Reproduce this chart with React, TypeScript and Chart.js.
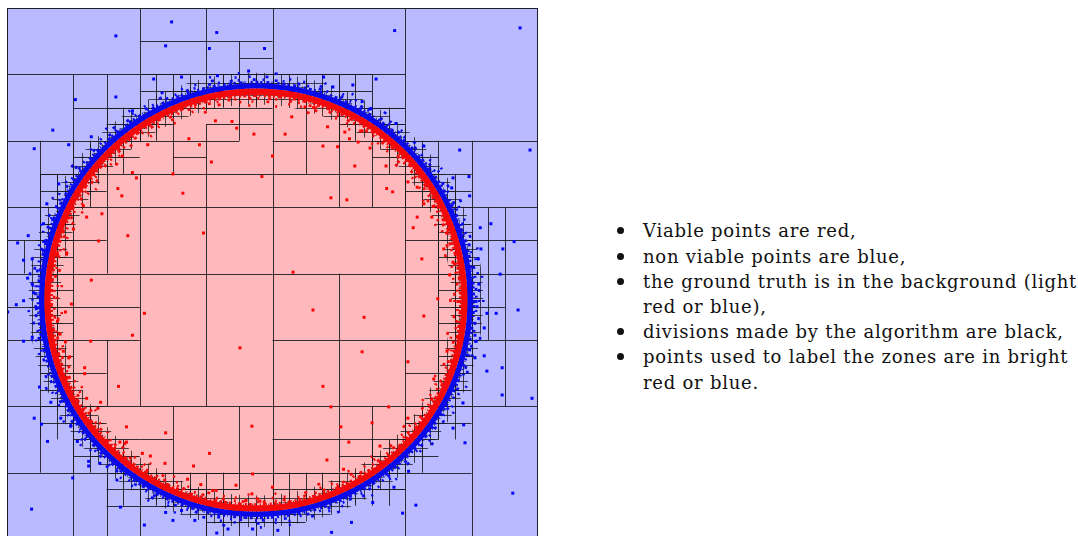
import React, { useEffect, useRef } from "react";
import { Chart, registerables } from "chart.js";

Chart.register(...registerables);

// ---- data (domain 0..8 on both axes, y grows downward) ----
const domainMin = 0;
const domainMax = 8;
const circleCenterX = 3.75;
const circleCenterY = 4.4;
const circleRadius = 3.185;

// horizontal divisions: [y, xStart, xEnd]
const hDivisions: number[][] = [
  [0.5, 2, 4], [0.75, 3.5, 4], [1, 0, 6], [1.5, 1, 2], [1.5, 2.5, 4], [1.5, 5, 6],
  [1.75, 3, 4], [1.75, 5.5, 6], [2, 0, 1], [2, 2, 3.5], [2, 4, 5.5], [2, 6, 8],
  [2.25, 2.5, 3], [2.5, 0.5, 1], [2.5, 1.5, 6], [3, 0, 8], [3.5, 0, 1.5],
  [3.5, 6, 6.5], [3.5, 7, 8], [4, 0, 8], [4.5, 0, 0.5], [4.5, 1, 2], [4.5, 7, 7.5], [5, 0, 2], [5, 4, 8],
  [5.5, 1, 1.5], [5.5, 6, 6.5], [6, 0, 8], [6.5, 2, 2.5], [6.5, 4, 5.5], [6.75, 5, 6],
  [7, 0, 7], [7.25, 2, 3.5], [7.25, 5, 6], [7.5, 1.5, 2.5],
];

// vertical divisions: [x, yStart, yEnd]
const vDivisions: number[][] = [
  [0.25, 3.5, 4], [0.5, 2, 4], [0.5, 6, 7], [0.75, 2.5, 3], [1, 1, 8], [1.5, 1, 2],
  [1.5, 2.5, 4], [1.5, 5, 6], [1.5, 7, 8], [2, 0, 1], [2, 1.5, 2], [2, 2.5, 6], [2, 7.25, 8],
  [2.5, 1.25, 2.5], [2.5, 6, 7.5], [3, 0, 1], [3, 1.75, 6], [3, 7.25, 8], [3.5, 0.5, 1],
  [3.5, 1.5, 2], [3.5, 6, 7.25], [4, 0, 1], [4, 1.25, 7.5], [4.5, 1.5, 2.5], [5, 1, 3],
  [5, 4, 7], [5.5, 1, 2], [5.5, 2.5, 3], [5.5, 6, 7], [6, 0, 8], [6.5, 2, 6.5], [7, 2, 8],
  [7.25, 3, 5], [7.5, 3, 6],
];

// half-unit blocks that the algorithm divided once more (crossed by the boundary): [x0, y0]
const refinedBlocks: number[][] = [
  [0.5, 2.5], [0.5, 3], [0.5, 3.5], [0.5, 4], [0.5, 4.5], [0.5, 5], [0.5, 5.5], [0.5, 6],
  [1, 2], [1, 2.5], [1, 6], [1, 6.5], [1.5, 1.5], [1.5, 2], [1.5, 6.5], [1.5, 7],
  [2, 1], [2, 1.5], [2, 7], [2.5, 1], [2.5, 7], [3, 1], [3, 7], [3, 7.5], [3.5, 1], [3.5, 7.5],
  [4, 1], [4, 7], [4, 7.5], [4.5, 1], [4.5, 7], [5, 1], [5, 1.5], [5, 7],
  [5.5, 1.5], [5.5, 2], [5.5, 6.5], [5.5, 7], [6, 2], [6, 2.5], [6, 6], [6, 6.5],
  [6.5, 2.5], [6.5, 3], [6.5, 3.5], [6.5, 4], [6.5, 4.5], [6.5, 5], [6.5, 5.5], [6.5, 6],
];

// finest divisions near the boundary: cell size and half width of the band they cover
const fineSteps = [0.125, 0.0625];
const fineBandHalfWidths = [0.24, 0.11];

// viable (red) labelling points: [x, y]
const viablePoints: number[][] = [
  [1.82, 3.43], [1.43, 3.1], [1.27, 4.1], [2.96, 3.39], [2.65, 2.79], [2.5, 2.5], [2.12, 2.06],
  [2.74, 1.97], [2.9, 2.06], [3.08, 2.32], [3.84, 2.54], [3.72, 1.9], [3.46, 1.81], [3.39, 1.71],
  [3.14, 1.7], [1.95, 2.56], [1.89, 2.48], [1.73, 2.83], [1.67, 2.72], [1.15, 2.98], [1.38, 3.51],
  [1.0, 3.33], [0.9, 3.69], [0.76, 3.7], [0.91, 3.16], [1.2, 3.15], [1.74, 2.23],
  [4.83, 1.79], [4.76, 2.08], [4.98, 2.09], [5.24, 2.38], [4.88, 2.86], [5.12, 2.89], [4.31, 3.98],
  [4.0, 2.23], [4.19, 1.9], [4.29, 1.64], [4.62, 1.5], [4.49, 1.49], [5.09, 1.87], [5.16, 1.97],
  [5.29, 2.02], [5.35, 1.85], [5.47, 2.11], [5.72, 2.72], [5.81, 2.77], [5.71, 2.38], [6.04, 2.62],
  [6.18, 2.7], [6.18, 3.15], [6.4, 3.15], [6.12, 3.31], [6.25, 3.78], [6.42, 2.99], [6.28, 2.95],
  [6.57, 3.19], [6.58, 3.63], [6.72, 3.83], [6.67, 4.02], [6.49, 4.38], [6.63, 3.39],
  [2.07, 4.6], [1.89, 4.93], [3.51, 5.12], [1.68, 5.7], [2.39, 6.4], [3.05, 6.71], [3.69, 6.3],
  [2.81, 6.9], [1.8, 6.31], [1.26, 5.02], [1.41, 5.94], [1.37, 6.03], [1.2, 5.88], [1.17, 5.42],
  [1.17, 5.51], [0.88, 5.03], [0.97, 4.46], [0.88, 4.58], [0.76, 4.72], [0.79, 4.91], [0.85, 5.17],
  [0.93, 5.27], [2.04, 6.71], [2.16, 6.75], [2.38, 6.86], [1.8, 6.54], [1.7, 6.54], [3.7, 7.02],
  [3.45, 7.19], [3.69, 7.32], [4.0, 7.22], [3.81, 7.43], [3.6, 7.42], [3.1, 7.27], [2.92, 7.18],
  [2.72, 7.1], [4.61, 4.55], [5.38, 4.66], [6.28, 4.64], [5.35, 5.18], [4.76, 5.7], [4.88, 6.01],
  [5.03, 6.31], [5.15, 6.54], [4.82, 6.81], [5.07, 6.95], [6.04, 5.33], [6.43, 5.59], [6.63, 5.17],
  [6.4, 5.89], [6.04, 6.18], [5.75, 6.01], [5.62, 6.6], [5.5, 6.25],
];

// non viable (blue) labelling points: [x, y]
const nonViablePoints: number[][] = [
  [2.48, 0.21], [1.64, 0.42], [3.16, 0.37], [2.39, 0.57], [3.05, 0.61], [3.88, 0.61], [2.21, 1.07],
  [1.64, 1.34], [1.03, 1.38], [0.69, 1.84], [0.41, 2.12], [0.93, 2.06], [1.27, 1.94], [1.89, 1.55],
  [3.17, 1.02], [2.63, 1.04], [3.64, 0.95], [5.84, 0.34], [7.73, 0.3], [5.56, 1.07], [5.21, 1.16],
  [5.35, 1.41], [6.82, 2.14], [7.88, 2.14], [6.96, 2.54], [6.28, 2.08], [5.86, 1.74], [5.47, 1.52],
  [4.91, 1.19], [4.77, 1.04], [6.72, 2.56], [6.7, 2.71], [6.97, 2.83], [7.29, 3.25], [7.13, 3.31],
  [7.64, 3.52], [7.47, 3.63], [7.14, 3.63], [7.1, 3.78], [7.43, 4.01], [7.11, 4.16], [7.7, 4.55],
  [7.37, 4.6], [7.23, 4.6], [7.08, 4.5], [7.19, 4.82], [7.05, 4.93], [7.19, 5.24], [7.07, 5.02],
  [6.97, 5.15], [7.62, 7.31], [7.91, 5.88], [7.46, 5.83], [6.88, 6.28], [6.9, 6.55], [6.16, 7.49],
  [5.96, 7.61], [4.89, 7.9], [5.19, 7.75], [5.51, 7.45], [5.83, 7.22], [6.87, 5.95], [6.72, 6.33],
  [7.23, 5.47], [7.46, 5.42], [7.05, 5.27], [6.05, 6.98], [4.08, 7.87], [3.7, 7.85], [0.37, 7.55],
  [0.99, 7.08], [1.71, 7.52], [2.07, 7.79], [0.41, 6.18], [0.52, 6.27], [0.66, 5.94], [0.61, 6.53],
  [0.49, 5.71], [2.5, 7.72], [2.63, 7.57], [2.39, 7.6], [3.33, 7.85], [3.16, 7.91], [1.23, 6.9],
  [1.23, 6.83], [1.4, 6.86], [0.96, 6.3], [1.06, 6.53], [0.81, 6.18], [2.83, 7.72], [0.32, 3.43],
  [0.16, 3.54], [0.25, 3.8], [0.38, 3.78], [0.31, 4.07], [0.01, 4.58], [0.38, 4.16], [0.4, 4.29],
  [0.25, 4.41], [0.38, 4.96], [0.25, 5.02], [0.55, 3.66], [0.58, 3.51], [0.78, 2.65], [0.6, 2.95],
  [0.69, 3.19], [0.55, 3.25], [0.44, 4.53], [0.54, 4.96], [0.14, 4.47],
];

const legendLines: { text: string; bullet: boolean }[] = [
  { text: "Viable points are red,", bullet: true },
  { text: "non viable points are blue,", bullet: true },
  { text: "the ground truth is in the background (light", bullet: true },
  { text: "red or blue),", bullet: false },
  { text: "divisions made by the algorithm are black,", bullet: true },
  { text: "points used to label the zones are in bright", bullet: true },
  { text: "red or blue.", bullet: false },
];

const lightBlue = "rgb(185,186,255)";
const lightRed = "rgb(255,185,188)";
const blueInk = "rgb(10,10,232)";
const redInk = "rgb(242,10,10)";

// dense sample band rendering: [offset from boundary in px, stroke width, dash pattern]
const blueBand: [number, number, number[]][] = [
  [2.8, 5.4, []],
  [6.5, 2.6, [3, 2, 2, 4, 3, 2, 1, 5, 2, 3]],
  [9, 2.6, [3, 7, 2, 10, 3, 5, 2, 13]],
  [12, 2.6, [2, 15, 3, 21, 2, 12]],
  [16, 2.6, [2, 35, 3, 48, 2, 27]],
];
const redBand: [number, number, number[]][] = [
  [-3, 6.2, []],
  [-7, 2.6, [3, 2, 2, 3, 4, 2, 1, 4, 2, 2]],
  [-9.6, 2.6, [3, 6, 2, 9, 3, 4, 2, 12]],
  [-12.8, 2.6, [2, 13, 3, 19, 2, 10]],
  [-16.8, 2.6, [2, 30, 3, 42, 2, 25]],
];

const groundTruthPlugin = {
  id: "groundTruth",
  beforeDatasetsDraw(chart: any) {
    const { ctx, chartArea: a, scales } = chart;
    const xs = scales.x;
    const ys = scales.y;
    const X = (v: number) => xs.getPixelForValue(v);
    const Y = (v: number) => ys.getPixelForValue(v);
    const snap = (p: number) => Math.round(p) + 0.5;
    ctx.save();
    ctx.beginPath();
    ctx.rect(a.left, a.top, a.right - a.left, a.bottom - a.top);
    ctx.clip();
    ctx.fillStyle = lightBlue;
    ctx.fillRect(a.left, a.top, a.right - a.left, a.bottom - a.top);
    const cx = X(circleCenterX);
    const cy = Y(circleCenterY);
    const unit = X(1) - X(0);
    const rp = circleRadius * unit;
    ctx.fillStyle = lightRed;
    ctx.beginPath();
    ctx.arc(cx, cy, rp, 0, Math.PI * 2);
    ctx.fill();

    // coarse divisions
    ctx.strokeStyle = "rgba(25,25,30,0.88)";
    ctx.lineWidth = 1;
    ctx.beginPath();
    for (const [yv, x0, x1] of hDivisions) {
      const py = snap(Y(yv));
      ctx.moveTo(X(x0), py);
      ctx.lineTo(X(x1), py);
    }
    for (const [xv, y0, y1] of vDivisions) {
      const px = snap(X(xv));
      ctx.moveTo(px, Y(y0));
      ctx.lineTo(px, Y(y1));
    }
    // refined half-unit blocks
    for (const [x0, y0] of refinedBlocks) {
      const px = snap(X(x0 + 0.25));
      const py = snap(Y(y0 + 0.25));
      ctx.moveTo(X(x0), py);
      ctx.lineTo(X(x0 + 0.5), py);
      ctx.moveTo(px, Y(y0));
      ctx.lineTo(px, Y(y0 + 0.5));
      const ex = snap(X(x0));
      const ey = snap(Y(y0));
      ctx.moveTo(X(x0), ey);
      ctx.lineTo(X(x0 + 0.5), ey);
      ctx.moveTo(ex, Y(y0));
      ctx.lineTo(ex, Y(y0 + 0.5));
    }
    ctx.stroke();

    // finest divisions, only in a narrow band around the boundary
    fineSteps.forEach((step, i) => {
      const hw = fineBandHalfWidths[i] * unit;
      ctx.save();
      ctx.beginPath();
      ctx.arc(cx, cy, rp + hw, 0, Math.PI * 2);
      ctx.arc(cx, cy, Math.max(rp - hw, 0), 0, Math.PI * 2, true);
      ctx.clip();
      ctx.strokeStyle = i === 0 ? "rgba(25,25,30,0.78)" : "rgba(25,25,30,0.6)";
      ctx.beginPath();
      for (let v = domainMin; v <= domainMax + 1e-9; v += step) {
        const px = snap(X(v));
        const py = snap(Y(v));
        ctx.moveTo(px, a.top);
        ctx.lineTo(px, a.bottom);
        ctx.moveTo(a.left, py);
        ctx.lineTo(a.right, py);
      }
      ctx.stroke();
      ctx.restore();
    });

    // dense sample bands along the boundary
    const drawBand = (layers: [number, number, number[]][], color: string) => {
      ctx.strokeStyle = color;
      for (const [off, w, dash] of layers) {
        ctx.lineWidth = w;
        ctx.setLineDash(dash);
        ctx.beginPath();
        ctx.arc(cx, cy, rp + off, 0, Math.PI * 2);
        ctx.stroke();
      }
      ctx.setLineDash([]);
    };
    drawBand(blueBand, blueInk);
    drawBand(redBand, redInk);
    ctx.restore();
  },
  afterDatasetsDraw(chart: any) {
    const { ctx, chartArea: a } = chart;
    ctx.save();
    ctx.strokeStyle = "rgb(30,30,40)";
    ctx.lineWidth = 1;
    ctx.strokeRect(a.left + 0.5, a.top + 0.5, a.right - a.left - 1, a.bottom - a.top - 1);
    ctx.restore();
  },
};

function DivisionChart() {
  const ref = useRef<HTMLCanvasElement | null>(null);
  useEffect(() => {
    if (!ref.current) return;
    const chart = new Chart(ref.current, {
      type: "scatter",
      data: {
        datasets: [
          {
            label: "non viable",
            data: nonViablePoints.map(([x, y]) => ({ x, y })),
            backgroundColor: "rgb(0,0,255)",
            borderWidth: 0,
            pointStyle: "rect",
            pointRadius: 2.1,
          },
          {
            label: "viable",
            data: viablePoints.map(([x, y]) => ({ x, y })),
            backgroundColor: "rgb(255,0,0)",
            borderWidth: 0,
            pointStyle: "rect",
            pointRadius: 2.1,
          },
        ],
      },
      options: {
        animation: false,
        responsive: false,
        devicePixelRatio: 1,
        layout: { padding: 0, autoPadding: false },
        scales: {
          x: { type: "linear", min: domainMin, max: domainMax, display: false },
          y: { type: "linear", min: domainMin, max: domainMax, reverse: true, display: false },
        },
        plugins: { legend: { display: false }, tooltip: { enabled: false } },
      },
      plugins: [groundTruthPlugin],
    });
    return () => chart.destroy();
  }, []);
  return <canvas ref={ref} width={531} height={531} style={{ display: "block" }} />;
}

export default function App() {
  const baseline0 = 237;
  const step = 25.2;
  return (
    <div style={{ position: "absolute", left: 0, top: 0, width: 1078, height: 536, overflow: "hidden", background: "#fff" }}>
      <div style={{ position: "absolute", left: 7, top: 8, width: 531, height: 528, overflow: "hidden" }}>
        <DivisionChart />
      </div>
      {legendLines.map((l, i) => (
        <div
          key={i}
          style={{
            position: "absolute",
            left: 643,
            top: baseline0 + i * step - 18.7,
            whiteSpace: "nowrap",
            fontFamily: "'DejaVu Serif', serif",
            fontSize: 18,
            letterSpacing: "0.75px",
            lineHeight: "25px",
            color: "#111",
          }}
        >
          {l.bullet && (
            <span style={{ position: "absolute", left: -26, top: 9, width: 7, height: 7, borderRadius: "50%", background: "#111" }} />
          )}
          {l.text}
        </div>
      ))}
    </div>
  );
}
